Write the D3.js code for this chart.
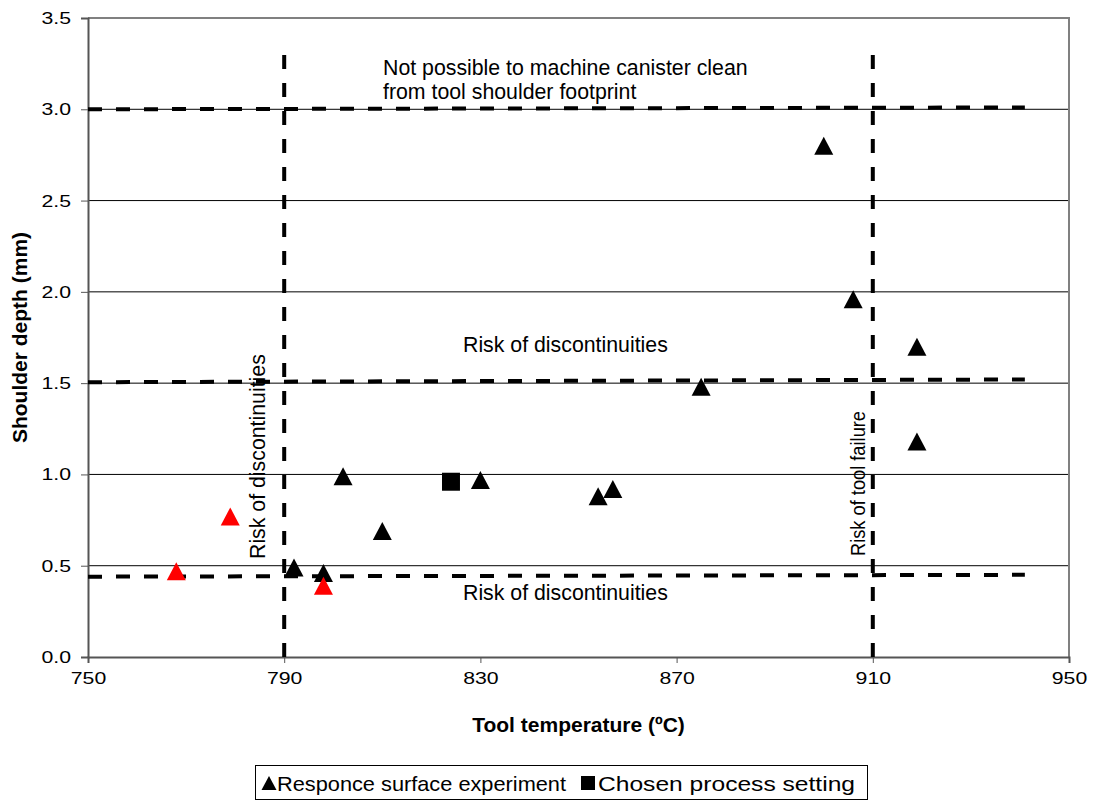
<!DOCTYPE html>
<html>
<head>
<meta charset="utf-8">
<script src="https://cdn.jsdelivr.net/npm/d3@7/dist/d3.min.js"></script>
<style>
  html, body { margin: 0; padding: 0; background: #fff; }
  svg { display: block; font-family: "Liberation Sans", Arial, sans-serif; }
</style>
</head>
<body>
<svg id="chart" width="1094" height="800"></svg>
<script>
// Response surface experiment (black) and out-of-window runs (red)
const responseTemp  = [792, 798, 802, 810, 830, 854, 857, 875, 900, 906, 919, 919];
const responseDepth = [0.49, 0.46, 0.99, 0.69, 0.97, 0.88, 0.92, 1.48, 2.80, 1.96, 1.70, 1.18];
const redTemp  = [768, 779, 798];
const redDepth = [0.47, 0.77, 0.39];
// Chosen process setting
const chosenTemp  = [824];
const chosenDepth = [0.96];

// Process window boundaries (dashed lines)
const limitTop    = { x: [750, 941], y: [3.0, 3.01] };
const limitMid    = { x: [750, 941], y: [1.505, 1.52] };
const limitLow    = { x: [750, 941], y: [0.44, 0.45] };
const limitLeft   = { x: [790, 790], y: [0, 3.32] };
const limitRight  = { x: [910, 910], y: [0, 3.32] };

const xTicks = [750, 790, 830, 870, 910, 950];
const yTicks = [0, 0.5, 1.0, 1.5, 2.0, 2.5, 3.0, 3.5];

const svg = d3.select("#chart");
const plotLeft = 88, plotRight = 1069, plotTop = 18, plotBottom = 657;

const x = d3.scaleLinear().domain([750, 950]).range([plotLeft, plotRight]);
const y = d3.scaleLinear().domain([0, 3.5]).range([plotBottom, plotTop]);

const LABEL_STRETCH = 1.25;

// Horizontal gridlines
svg.append("g")
  .selectAll("line")
  .data(yTicks.filter(d => d > 0 && d < 3.5))
  .join("line")
  .attr("x1", plotLeft).attr("x2", plotRight)
  .attr("y1", d => y(d)).attr("y2", d => y(d))
  .attr("stroke", "#000").attr("stroke-width", 1);

// Plot frame (top and right)
svg.append("path")
  .attr("d", `M${plotLeft},${plotTop}H${plotRight}V${plotBottom}`)
  .attr("fill", "none").attr("stroke", "#808080").attr("stroke-width", 2);

// Y axis
const yAxis = svg.append("g")
  .attr("transform", `translate(${plotLeft},0)`)
  .call(d3.axisLeft(y).tickValues(yTicks).tickSize(7).tickPadding(10)
    .tickFormat(d3.format(".1f")));
yAxis.select(".domain").attr("stroke", "#555").attr("stroke-width", 2);
yAxis.selectAll(".tick line").attr("stroke", "#555").attr("stroke-width", 1);
yAxis.selectAll(".tick text")
  .attr("font-size", 17).attr("fill", "#000")
  .attr("font-family", "Liberation Sans, Arial, sans-serif")
  .attr("x", -17 / LABEL_STRETCH)
  .attr("transform", `scale(${LABEL_STRETCH},1)`);

// X axis
const xAxis = svg.append("g")
  .attr("transform", `translate(0,${plotBottom})`)
  .call(d3.axisBottom(x).tickValues(xTicks).tickSize(6).tickPadding(0)
    .tickFormat(d3.format("d")));
xAxis.select(".domain").attr("stroke", "#555").attr("stroke-width", 2);
xAxis.selectAll(".tick line").attr("stroke", "#555").attr("stroke-width", 1);
xAxis.selectAll(".tick text")
  .attr("font-size", 17).attr("fill", "#000")
  .attr("font-family", "Liberation Sans, Arial, sans-serif")
  .attr("y", 27).attr("dy", 0)
  .attr("transform", `scale(${LABEL_STRETCH},1)`);

// Dashed process limits
const line = d3.line().x(d => x(d[0])).y(d => y(d[1]));
[limitTop, limitMid, limitLow, limitLeft, limitRight].forEach(l => {
  svg.append("path")
    .datum(d3.zip(l.x, l.y))
    .attr("d", line)
    .attr("fill", "none")
    .attr("stroke", "#000")
    .attr("stroke-width", 4)
    .attr("stroke-dasharray", "14,14");
});

// Region annotations
const ann = svg.append("g").attr("fill", "#000").attr("font-size", 21.3);
ann.append("text").attr("x", 383).attr("y", 75).text("Not possible to machine canister clean");
ann.append("text").attr("x", 383).attr("y", 99).text("from tool shoulder footprint");
ann.append("text").attr("x", 463).attr("y", 352).text("Risk of discontinuities");
ann.append("text").attr("x", 463).attr("y", 600).text("Risk of discontinuities");
ann.append("text").attr("transform", "translate(265,559) rotate(-90)").text("Risk of discontinuities");
ann.append("text").attr("transform", "translate(865,556) rotate(-90)")
  .attr("font-size", 20.5)
  .attr("textLength", 145).attr("lengthAdjust", "spacingAndGlyphs")
  .text("Risk of tool failure");

// Markers
const tri = (w, h) => `M0,${-h / 2}L${w / 2},${h / 2}L${-w / 2},${h / 2}Z`;
const sq = s => `M${-s / 2},${-s / 2}h${s}v${s}h${-s}Z`;

svg.append("g").selectAll("path")
  .data(d3.zip(responseTemp, responseDepth))
  .join("path")
  .attr("transform", d => `translate(${x(d[0])},${y(d[1])})`)
  .attr("d", tri(19, 18))
  .attr("fill", "#000");

svg.append("g").selectAll("path")
  .data(d3.zip(chosenTemp, chosenDepth))
  .join("path")
  .attr("transform", d => `translate(${x(d[0])},${y(d[1])})`)
  .attr("d", sq(18))
  .attr("fill", "#000");

svg.append("g").selectAll("path")
  .data(d3.zip(redTemp, redDepth))
  .join("path")
  .attr("transform", d => `translate(${x(d[0])},${y(d[1])})`)
  .attr("d", tri(19, 18))
  .attr("fill", "#ff0000");

// Axis titles
svg.append("text")
  .attr("x", (plotLeft + plotRight) / 2).attr("y", 732)
  .attr("text-anchor", "middle").attr("font-weight", "bold").attr("font-size", 21)
  .text("Tool temperature (ºC)");
svg.append("text")
  .attr("transform", `translate(27,${(plotTop + plotBottom) / 2}) rotate(-90)`)
  .attr("text-anchor", "middle").attr("font-weight", "bold").attr("font-size", 21)
  .text("Shoulder depth (mm)");

// Legend
const lg = svg.append("g");
lg.append("rect").attr("x", 255.5).attr("y", 765.5).attr("width", 612).attr("height", 34)
  .attr("fill", "#fff").attr("stroke", "#000").attr("stroke-width", 1);
lg.append("path").attr("transform", "translate(269,783)").attr("d", tri(15, 14)).attr("fill", "#000");
lg.append("text").attr("x", 277).attr("y", 791).attr("font-size", 21)
  .attr("textLength", 289).attr("lengthAdjust", "spacingAndGlyphs")
  .text("Responce surface experiment");
lg.append("path").attr("transform", "translate(588,783)").attr("d", sq(14)).attr("fill", "#000");
lg.append("text").attr("x", 598).attr("y", 791).attr("font-size", 21)
  .attr("textLength", 257).attr("lengthAdjust", "spacingAndGlyphs")
  .text("Chosen process setting");
</script>
</body>
</html>
